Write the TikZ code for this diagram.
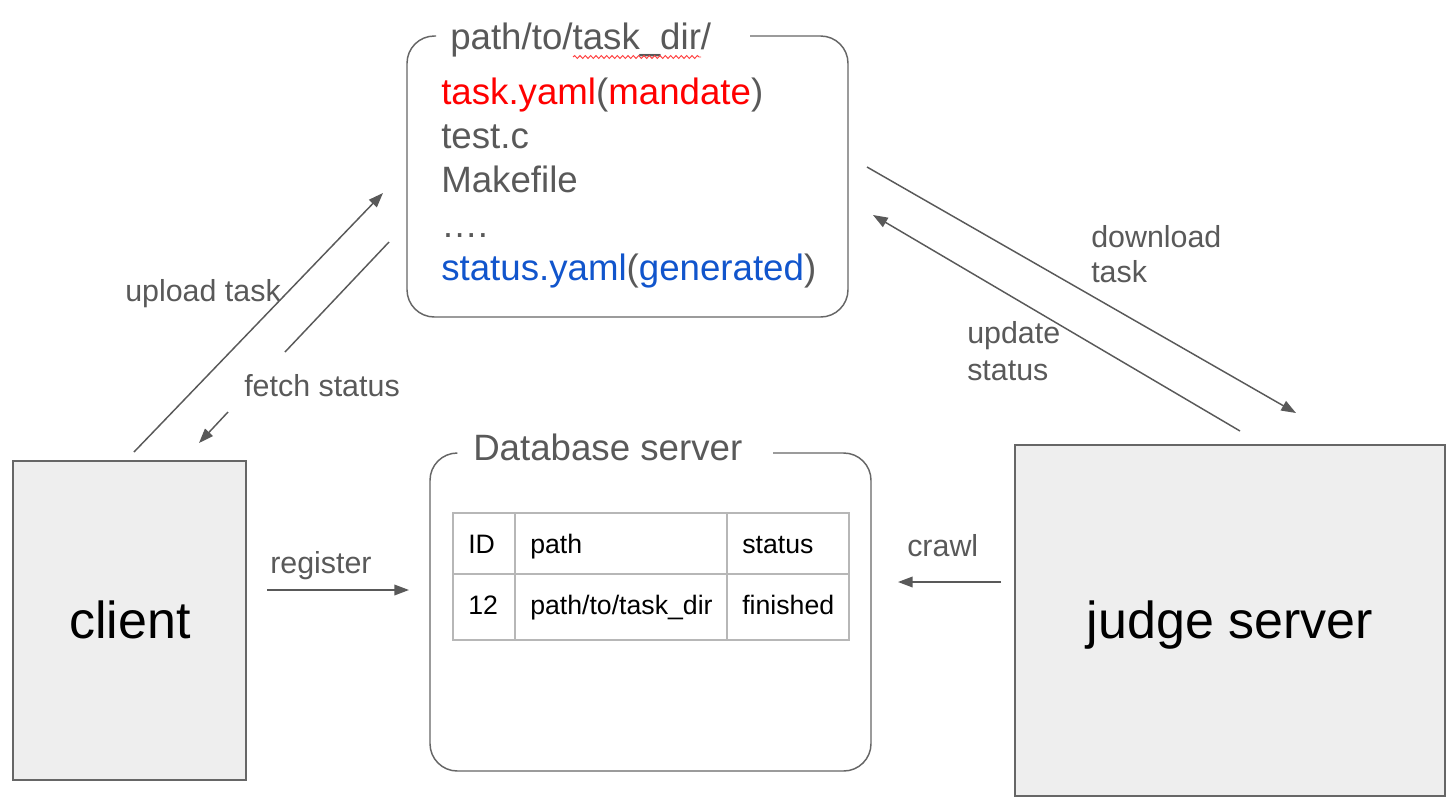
\documentclass[tikz,border=0pt]{standalone}
\usepackage{fontspec}
\setmainfont{Liberation Sans}
\usetikzlibrary{arrows.meta,decorations.pathmorphing}
\definecolor{txtgray}{HTML}{595959}
\definecolor{linegray}{HTML}{595959}
\definecolor{boxgray}{HTML}{666666}
\definecolor{boxfill}{HTML}{EEEEEE}
\definecolor{tblgray}{HTML}{B7B7B7}
\definecolor{fred}{HTML}{FF0000}
\definecolor{fblue}{HTML}{1155CC}
\tikzset{
  conn/.style={draw=linegray, line width=1.1pt},
  arr/.style={conn, -{Triangle[length=11pt,width=8pt]}},
  lbl/.style={anchor=base west, inner sep=0pt, text=txtgray, font=\fontsize{22.8}{26}\selectfont},
  big/.style={anchor=base west, inner sep=0pt, text=txtgray, font=\fontsize{27.5}{32}\selectfont},
  cell/.style={anchor=base west, inner sep=0pt, text=black, font=\fontsize{20}{24}\selectfont},
  frame/.style={draw=boxgray, line width=1.1pt, rounded corners=20.5pt},
  machine/.style={draw=boxgray, fill=boxfill, line width=1.4pt},
  tbl/.style={draw=tblgray, line width=1.3pt}
}
\begin{document}
\begin{tikzpicture}[x=0.75pt,y=-0.75pt]
\useasboundingbox (0,0) rectangle (1447,804);

% task directory frame
\draw[frame] (436,36) -- (407,36) -- (407,317) -- (848,317) -- (848,36) -- (750,36);
\node[big] (dirtitle) at (450,49) {path/to/task\_dir/};
\draw[draw=fred!75, line width=0.7pt, decorate, decoration={snake, amplitude=1.1pt, segment length=4pt}] (573,57) -- (701,57);
\node[big] (f1) at (441,104) {\textcolor{fred}{task.yaml}(\textcolor{fred}{mandate})};
\node[big] (f2) at (441,148) {test.c};
\node[big] (f3) at (441,192) {Makefile};
\node[big] (f4) at (441,237) {….};
\node[big] (f5) at (441,280) {\textcolor{fblue}{status.yaml}(\textcolor{fblue}{generated})};

% database frame
\draw[frame] (457,453) -- (430,453) -- (430,771) -- (871,771) -- (871,453) -- (773,453);
\node[big] (dbtitle) at (473,460) {Database server};

% table
\draw[tbl] (453,513) rectangle (849,640);
\draw[tbl] (453,574) -- (849,574);
\draw[tbl] (515,513) -- (515,640);
\draw[tbl] (727,513) -- (727,640);
\node[cell] (c11) at (468,553) {ID};
\node[cell] (c12) at (530,553) {path};
\node[cell] (c13) at (742,553) {status};
\node[cell] (c21) at (468,614) {12};
\node[cell] (c22) at (530,614) {path/to/task\_dir};
\node[cell] (c23) at (742,614) {finished};

% machines
\draw[machine] (13,461) rectangle (246,780);
\node[anchor=base, inner sep=0pt, font=\fontsize{39}{46}\selectfont] (client) at (130,638) {client};
\draw[machine] (1015,445) rectangle (1445,796);
\node[anchor=base, inner sep=0pt, font=\fontsize{39}{46}\selectfont] (judge) at (1230,638) {judge server};

% connector end points
\coordinate (upA) at (134,452);
\coordinate (upB) at (383,193);
\coordinate (fsA) at (389,242);
\coordinate (fsB) at (285,352);
\coordinate (fsC) at (228,412);
\coordinate (fsD) at (199,443);
\coordinate (dlA) at (867,167);
\coordinate (dlB) at (1296,413);
\coordinate (usA) at (1240,431);
\coordinate (usB) at (873,215);
\coordinate (rgA) at (267,590);
\coordinate (rgB) at (409,590);
\coordinate (crA) at (1001,582);
\coordinate (crB) at (898,582);

\draw[arr] (upA) -- (upB);
\draw[conn] (fsA) -- (fsB);
\draw[arr] (fsC) -- (fsD);
\draw[arr] (dlA) -- (dlB);
\draw[arr] (usA) -- (usB);
\draw[arr] (rgA) -- (rgB);
\draw[arr] (crA) -- (crB);

% labels
\node[lbl] (lup) at (125,301) {upload task};
\node[lbl] (lfs) at (244,396) {fetch status};
\node[lbl] (ldl1) at (1091,247) {download};
\node[lbl] (ldl2) at (1091,282) {task};
\node[lbl] (lus1) at (967,343) {update};
\node[lbl] (lus2) at (967,380) {status};
\node[lbl] (lrg) at (270,573) {register};
\node[lbl] (lcr) at (907,556) {crawl};
\end{tikzpicture}
\end{document}
